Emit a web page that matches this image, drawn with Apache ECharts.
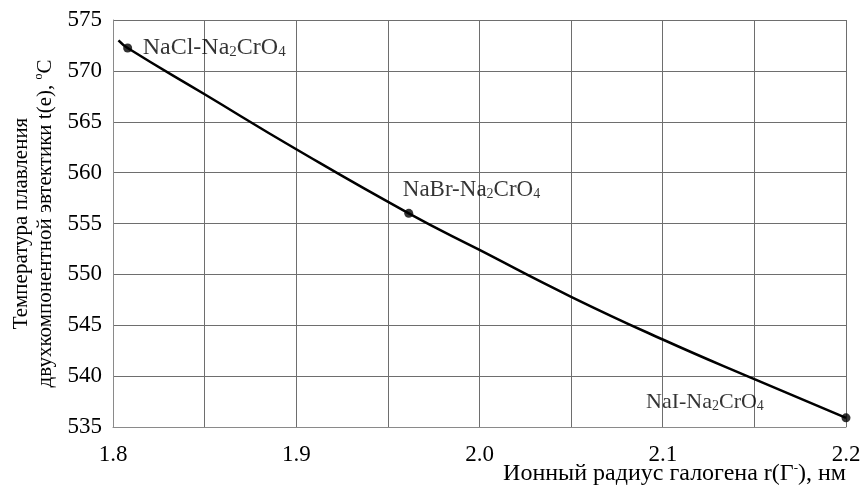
<!DOCTYPE html>
<html>
<head>
<meta charset="utf-8">
<script src="https://cdn.jsdelivr.net/npm/echarts@6/dist/echarts.min.js"></script>
<style>html,body{margin:0;padding:0;background:#fff}#c{width:863px;height:488px}</style>
</head>
<body>
<div id="c"></div>
<script>
// Curve
const curveX = [1.803, 1.808, 1.85, 1.9, 1.9614, 2.0, 2.05, 2.1, 2.15, 2.2];
const curveY = [573.0, 572.25, 567.7, 562.3, 556.0, 552.4, 547.8, 543.6, 539.7, 535.9];
// Marked systems
const pointNames = ['NaCl', 'NaBr', 'NaI'];
const pointX = [1.808, 1.9614, 2.2];
const pointY = [572.25, 556.0, 535.9];
const pointLabels = ['NaCl-Na{sub|2}CrO{sub|4}', 'NaBr-Na{sub|2}CrO{sub|4}', 'NaI-Na{sub|2}CrO{sub|4}'];

// label layout (styling, not data)
const labelOffsets = [[15, 0], [-6, -23], [-200, -16]];
const labelFontSizes = [24, 23, 22];

const FONT = '"Liberation Serif", "Times New Roman", serif';
const chart = echarts.init(document.getElementById('c'), null, {renderer: 'canvas'});
const subRich = fs => ({
  sub: {fontFamily: FONT, fontSize: Math.round(fs * 0.62), color: '#000', verticalAlign: 'bottom', padding: [Math.round(fs * 0.38), 0, 0, 0]}
});
chart.setOption({
  animation: false,
  backgroundColor: '#fff',
  grid: {left: 113, right: 17, top: 20, bottom: 61, containLabel: false, outerBoundsMode: 'none'},
  xAxis: {
    type: 'value', min: 1.8, max: 2.2, interval: 0.05,
    axisLine: {show: true, lineStyle: {color: '#8a8a8a', width: 1}},
    axisTick: {show: false},
    splitLine: {show: true, lineStyle: {color: '#6e6e6e', width: 1}},
    axisLabel: {
      fontFamily: FONT, fontSize: 23, color: '#000', margin: 16,
      formatter: v => (Math.round(v * 20) % 2 === 0) ? v.toFixed(1) : ''
    },
    name: 'Ионный радиус галогена r(Г{sup|-}), нм',
    nameLocation: 'end', nameGap: 0, nameMoveOverlap: false,
    nameTextStyle: {
      fontFamily: FONT, fontSize: 24, color: '#000', align: 'right', verticalAlign: 'top',
      padding: [35, 0, 0, 0],
      rich: {sup: {fontFamily: FONT, fontSize: 13, color: '#000', verticalAlign: 'top', padding: [0, 0, 11, 0]}}
    }
  },
  yAxis: {
    type: 'value', min: 535, max: 575, interval: 5,
    axisLine: {show: true, lineStyle: {color: '#8a8a8a', width: 1}},
    axisTick: {show: false},
    splitLine: {show: true, lineStyle: {color: '#6e6e6e', width: 1}},
    axisLabel: {fontFamily: FONT, fontSize: 23, color: '#000', margin: 11},
    name: 'Температура плавления\nдвухкомпонентной эвтектики t(e), {sup|o}C',
    nameLocation: 'middle', nameGap: 56, nameRotate: 90, nameMoveOverlap: false,
    nameTextStyle: {
      fontFamily: FONT, fontSize: 21, color: '#000', lineHeight: 24,
      rich: {sup: {fontFamily: FONT, fontSize: 12, color: '#000', verticalAlign: 'top', lineHeight: 24, padding: [0, 0, 10, 0]}}
    }
  },
  series: [
    {
      type: 'line', smooth: true, showSymbol: false,
      data: curveX.map((x, i) => [x, curveY[i]]),
      lineStyle: {color: '#000', width: 2.5},
      z: 3
    },
    {
      type: 'scatter', symbolSize: 9,
      itemStyle: {color: '#000'},
      data: pointX.map((x, i) => ({
        name: pointNames[i], value: [x, pointY[i]],
        label: {
          show: true, position: 'inside', offset: labelOffsets[i],
          align: 'left', verticalAlign: 'middle',
          formatter: pointLabels[i],
          fontFamily: FONT, fontSize: labelFontSizes[i], color: '#000',
          textBorderWidth: 0,
          rich: subRich(labelFontSizes[i])
        }
      })),
      z: 5
    }
  ]
});
</script>
</body>
</html>
